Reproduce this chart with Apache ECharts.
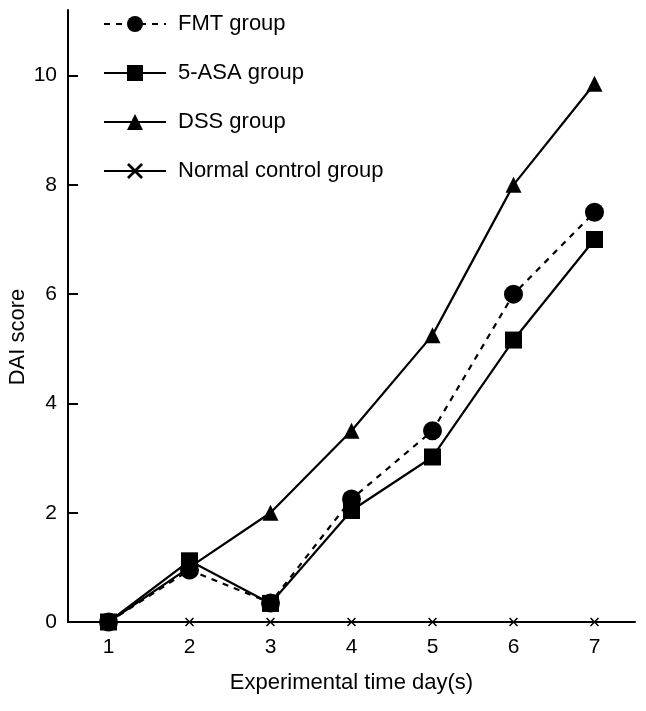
<!DOCTYPE html>
<html><head><meta charset="utf-8">
<script src="https://cdn.jsdelivr.net/npm/echarts@6/dist/echarts.min.js"></script>
<style>html,body{margin:0;padding:0;background:#fff}#c{width:646px;height:711px}</style>
</head><body><div id="c"></div>
<script>
const days = ['1','2','3','4','5','6','7'];
const yTicks = [0,2,4,6,8,10];
const fmt = [0, 0.95, 0.35, 2.25, 3.5, 6.0, 7.5];
const asa = [0, 1.12, 0.34, 2.04, 3.02, 5.16, 7.0];
const dss = [0, 1.0, 2.0, 3.5, 5.25, 8.0, 9.85];
const normal = [0, 0, 0, 0, 0, 0, 0];

const xMark = 'path://M0,1.2L1.2,0L5,3.8L8.8,0L10,1.2L6.2,5L10,8.8L8.8,10L5,6.2L1.2,10L0,8.8L3.8,5Z';
const font = 'Liberation Sans, Arial, sans-serif';
const chart = echarts.init(document.getElementById('c'));
function s(name, data, symbol, size, dash) {
  return {
    name, type: 'line', data, symbol, symbolSize: size, showSymbol: true,
    lineStyle: {color: '#000', width: 2.2, type: dash ? [6, 6] : 'solid'},
    itemStyle: {color: '#000'},
    animation: false
  };
}
chart.setOption({
  animation: false,
  textStyle: {fontFamily: font},
  grid: {left: 68, right: 11, top: 10, bottom: 89, containLabel: false, outerBoundsMode: 'none'},
  legend: {
    left: 98, top: 8, orient: 'vertical', itemWidth: 62, itemHeight: 20, itemGap: 27,
    textStyle: {fontSize: 22, color: '#000', fontFamily: font, padding: [0, 0, 0, 7]},
    data: ['FMT group', '5-ASA group', 'DSS group', 'Normal control group']
  },
  xAxis: {
    type: 'category', data: days, boundaryGap: true,
    name: 'Experimental time day(s)', nameLocation: 'middle', nameGap: 50, nameMoveOverlap: false,
    nameTextStyle: {fontSize: 22, color: '#000', fontFamily: font},
    axisLine: {lineStyle: {color: '#000', width: 2}},
    axisTick: {inside: true, length: 10, lineStyle: {color: '#000', width: 2}},
    axisLabel: {fontSize: 21, color: '#000', margin: 15, fontFamily: font}
  },
  yAxis: {
    type: 'value', min: 0, max: 11.2,
    name: 'DAI score', nameLocation: 'middle', nameGap: 39, nameMoveOverlap: false,
    nameTextStyle: {fontSize: 22, color: '#000', fontFamily: font, padding: [0, 42, 0, 0]},
    axisLine: {show: true, lineStyle: {color: '#000', width: 2}},
    axisTick: {show: true, inside: true, length: 10, customValues: yTicks, lineStyle: {color: '#000', width: 2}},
    axisLabel: {fontSize: 21, color: '#000', margin: 11, customValues: yTicks, fontFamily: font},
    splitLine: {show: false}
  },
  series: [
    s('DSS group', dss, 'triangle', 16, false),
    s('5-ASA group', asa, 'rect', 17, false),
    s('FMT group', fmt, 'circle', 19, true),
    s('Normal control group', normal, xMark, 9, false)
  ]
});
</script></body></html>
